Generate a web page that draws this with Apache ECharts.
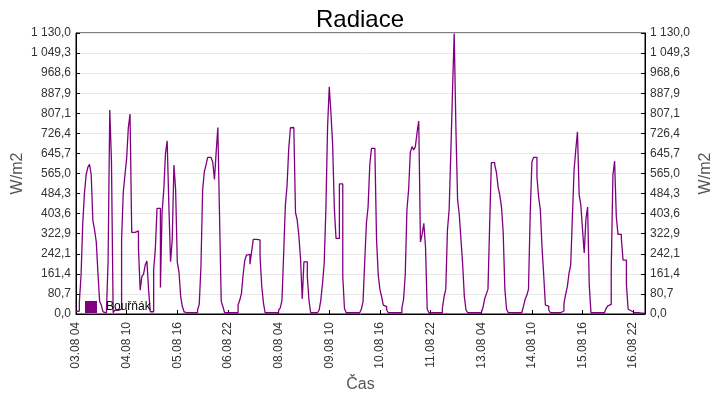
<!DOCTYPE html>
<html>
<head>
<meta charset="utf-8">
<script src="https://cdn.jsdelivr.net/npm/echarts@6/dist/echarts.min.js"></script>
<style>
  html, body { margin: 0; padding: 0; background: #fff; }
  #chart { width: 720px; height: 400px; }
</style>
</head>
<body>
<div id="chart"></div>
<script>
// hodinove hodnoty radiace (W/m2), zacatek 03.08 04:00
var day03 = [10, 12, 50, 157, 365, 485, 560, 590, 602, 560, 375, 338, 290, 164, 50, 36, 9, 5, 5, 210]
var day04 = [820, 615, 5, 15, 15, 12, 20, 300, 490, 560, 626, 750, 804, 328, 328, 330, 334, 264, 96, 150, 160, 197, 213, 96]
var day05 = [9, 9, 177, 264, 425, 425, 107, 411, 500, 646, 696, 436, 210, 300, 599, 499, 208, 168, 70, 30, 9, 5, 5, 5]
var day06 = [5, 5, 5, 5, 16, 40, 190, 500, 572, 600, 630, 630, 630, 610, 541, 650, 750, 400, 52, 30, 5, 5, 5, 5]
var day07 = [5, 5, 5, 5, 36, 56, 83, 160, 217, 237, 240, 200, 250, 300, 300, 298, 298, 233, 113, 45, 5, 5, 5, 5]
var day08 = [5, 5, 5, 5, 16, 25, 56, 244, 438, 516, 666, 749, 750, 750, 409, 378, 314, 220, 60, 210, 210, 150, 54, 5]
var day09 = [5, 5, 5, 5, 16, 56, 123, 204, 422, 753, 914, 807, 680, 425, 304, 304, 523, 523, 150, 23, 5, 5, 5, 5]
var day10 = [5, 5, 5, 5, 12, 19, 50, 210, 365, 432, 600, 666, 666, 666, 300, 157, 99, 70, 36, 30, 16, 5, 5, 5]
var day11 = [5, 5, 5, 5, 5, 23, 59, 157, 420, 500, 650, 673, 660, 673, 730, 776, 290, 320, 365, 270, 20, 5, 5, 5]
var day12 = [5, 5, 5, 5, 5, 23, 70, 100, 338, 420, 650, 900, 1128, 750, 460, 400, 300, 200, 70, 16, 5, 5, 5, 5]
var day13 = [5, 5, 5, 5, 5, 25, 60, 80, 100, 360, 609, 609, 600, 570, 510, 478, 430, 330, 100, 20, 5, 5, 5, 5]
var day14 = [5, 5, 5, 5, 5, 30, 59, 75, 100, 400, 610, 630, 630, 552, 470, 420, 270, 157, 36, 32, 16, 5, 5, 5]
var day15 = [5, 5, 5, 5, 12, 43, 79, 110, 164, 197, 391, 580, 660, 733, 480, 438, 340, 245, 382, 430, 113, 5, 5, 5]
var day16 = [5, 5, 5, 5, 5, 5, 23, 33, 39, 180, 560, 615, 391, 320, 320, 304, 217, 217, 117, 19, 12, 5, 5, 5]
var day17 = [5, 3, 3, 3, 3, 3]

var xLabels = ['03.08 04', '04.08 10', '05.08 16', '06.08 22', '08.08 04', '09.08 10',
  '10.08 16', '11.08 22', '13.08 04', '14.08 10', '15.08 16', '16.08 22']

var seriesName = 'Bouřňák'
var yMax = 1130

var values = [].concat(day03, day04, day05, day06, day07, day08, day09, day10,
  day11, day12, day13, day14, day15, day16, day17)
var points = values.map(function (v, i) { return [i, v] })

function fmtNum(v) {
  var s = v.toFixed(1).split('.')
  var int = s[0].replace(/\B(?=(\d{3})+(?!\d))/g, ' ')
  return int + ',' + s[1]
}

var font = '"Liberation Sans", Arial, sans-serif'

var yAxisBase = {
  type: 'value',
  min: 0,
  max: yMax,
  interval: yMax / 14,
  name: 'W/m2',
  nameLocation: 'middle',
  nameRotate: 90,
  nameGap: 50,
  nameMoveOverlap: false,
  nameTextStyle: { fontFamily: font, fontSize: 16, color: '#555' },
  axisLine: { show: true, lineStyle: { color: '#000' } },
  axisTick: { show: true, inside: true, length: 4, lineStyle: { color: '#000' } },
  axisLabel: { fontFamily: font, fontSize: 12, color: '#333', margin: 5, formatter: fmtNum }
}

var chart = echarts.init(document.getElementById('chart'))
chart.setOption({
  animation: false,
  title: {
    text: 'Radiace',
    left: 'center',
    top: 3,
    textStyle: { fontFamily: font, fontSize: 24, fontWeight: 'normal', color: '#000' }
  },
  legend: {
    left: 80,
    top: 296,
    icon: 'rect',
    itemWidth: 12,
    itemHeight: 12,
    itemGap: 6,
    textStyle: { fontFamily: font, fontSize: 12, color: '#000', padding: [0, 0, 0, 4] },
    data: [seriesName]
  },
  grid: {
    left: 76,
    right: 75,
    top: 33,
    bottom: 86,
    containLabel: false,
    outerBoundsMode: 'none',
    show: true,
    borderColor: '#000',
    borderWidth: 1
  },
  xAxis: {
    type: 'value',
    min: 0,
    max: values.length - 1,
    interval: 30,
    name: 'Čas',
    nameLocation: 'middle',
    nameGap: 63,
    nameMoveOverlap: false,
    nameTextStyle: { fontFamily: font, fontSize: 16, color: '#555' },
    axisLine: { show: true, lineStyle: { color: '#000' } },
    axisTick: { show: true, inside: true, length: 4, lineStyle: { color: '#000' } },
    splitLine: { show: false },
    axisLabel: {
      fontFamily: font,
      fontSize: 12,
      color: '#333',
      rotate: 90,
      margin: 8,
      showMaxLabel: false,
      formatter: function (v) {
        return v % 30 === 0 ? (xLabels[v / 30] || '') : ''
      }
    }
  },
  yAxis: [
    Object.assign({}, yAxisBase, {
      position: 'left',
      splitLine: { show: true, lineStyle: { color: '#e8e8e8' } }
    }),
    Object.assign({}, yAxisBase, {
      position: 'right',
      nameGap: 53,
      splitLine: { show: false }
    })
  ],
  series: [{
    name: seriesName,
    type: 'line',
    step: 'end',
    showSymbol: false,
    data: points,
    itemStyle: { color: '#800080' },
    lineStyle: { color: '#800080', width: 1.3 }
  }]
})
</script>
</body>
</html>
